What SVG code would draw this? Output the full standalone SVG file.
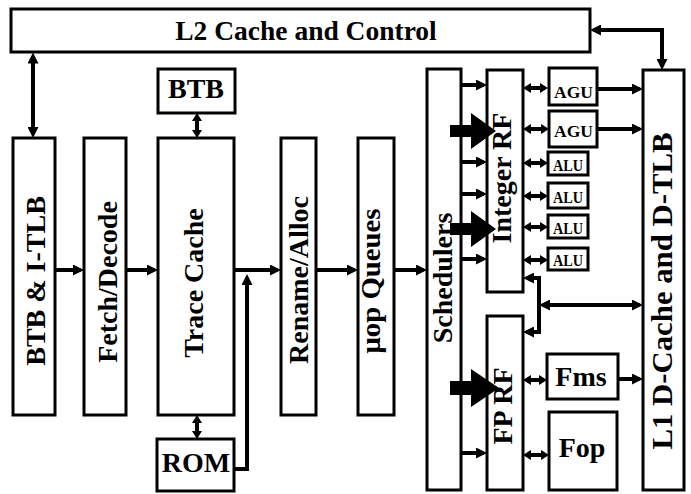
<svg xmlns="http://www.w3.org/2000/svg" width="691" height="494" viewBox="0 0 691 494">
<style>
.box{fill:#fff;stroke:#000;stroke-width:3}
.t{font-family:"Liberation Serif","Times New Roman",serif;font-weight:bold;fill:#000;text-anchor:middle}
.f{font-size:28px}
.ln{stroke:#000;stroke-width:4;fill:none}
.a{marker-end:url(#ah)}
.aa{marker-start:url(#ah);marker-end:url(#ah)}
.ss{marker-start:url(#sh);marker-end:url(#sh)}
.big{fill:#000}
</style>
<defs>
<marker id="ah" viewBox="0 0 11 11" refX="7.5" refY="5.5" markerWidth="11" markerHeight="11" markerUnits="userSpaceOnUse" orient="auto-start-reverse"><path d="M0,0 L11,5.5 L0,11 z" fill="#000"/></marker>
<marker id="sh" viewBox="0 0 8 10" refX="5" refY="5" markerWidth="8" markerHeight="10" markerUnits="userSpaceOnUse" orient="auto-start-reverse"><path d="M0,0 L8,5 L0,10 z" fill="#000"/></marker>
</defs>
<rect width="691" height="494" fill="#fff"/>
<g id="l2"><rect class="box" x="11" y="9" width="579" height="43"/><text class="t" x="306" y="40" font-size="27.5">L2 Cache and Control</text></g>
<g id="btb"><rect class="box" x="158" y="69" width="77" height="44"/><text class="t f" x="196" y="98">BTB</text></g>
<g id="btb-itlb"><rect class="box" x="13" y="138" width="42" height="277"/><text class="t f" transform="translate(45,281) rotate(-90)">BTB &amp; I-TLB</text></g>
<g id="fetch"><rect class="box" x="84" y="138" width="42" height="277"/><text class="t f" transform="translate(117,282) rotate(-90)">Fetch/Decode</text></g>
<g id="trace"><rect class="box" x="158" y="138" width="76" height="277"/><text class="t f" transform="translate(203,283) rotate(-90)">Trace Cache</text></g>
<g id="rom"><rect class="box" x="157" y="439" width="77" height="52"/><text class="t f" x="196" y="472">ROM</text></g>
<g id="rename"><rect class="box" x="281" y="138" width="35" height="277"/><text class="t f" transform="translate(308,280) rotate(-90)">Rename/Alloc</text></g>
<g id="uop"><rect class="box" x="358" y="138" width="36" height="277"/><text class="t f" transform="translate(380,281) rotate(-90)" textLength="145" lengthAdjust="spacingAndGlyphs">μop Queues</text></g>
<g id="sched"><rect class="box" x="427" y="69" width="34" height="421"/><text class="t f" transform="translate(452,278) rotate(-90)">Schedulers</text></g>
<g id="intrf"><rect class="box" x="487" y="70" width="36" height="222"/><text class="t f" transform="translate(511,178) rotate(-90)">Integer RF</text></g>
<g id="fprf"><rect class="box" x="487" y="316" width="36" height="174"/><text class="t f" transform="translate(512,406) rotate(-90)">FP RF</text></g>
<g id="agu1"><rect class="box" x="549" y="68" width="48" height="37"/><text class="t" x="573.5" y="98" font-size="17.5">AGU</text></g>
<g id="agu2"><rect class="box" x="549" y="111" width="48" height="36"/><text class="t" x="573.5" y="137" font-size="17.5">AGU</text></g>
<g id="alu1"><rect class="box" x="548" y="152" width="40" height="23"/><text class="t" x="568" y="171" font-size="16" textLength="30" lengthAdjust="spacingAndGlyphs">ALU</text></g>
<g id="alu2"><rect class="box" x="548" y="183" width="40" height="25"/><text class="t" x="568" y="203" font-size="16" textLength="30" lengthAdjust="spacingAndGlyphs">ALU</text></g>
<g id="alu3"><rect class="box" x="548" y="215" width="40" height="23"/><text class="t" x="568" y="234" font-size="16" textLength="30" lengthAdjust="spacingAndGlyphs">ALU</text></g>
<g id="alu4"><rect class="box" x="548" y="248" width="40" height="22"/><text class="t" x="568" y="266" font-size="16" textLength="30" lengthAdjust="spacingAndGlyphs">ALU</text></g>
<g id="fms"><rect class="box" x="547" y="354" width="71" height="45"/><text class="t f" x="581" y="386">Fms</text></g>
<g id="fop"><rect class="box" x="549" y="412" width="68" height="78"/><text class="t f" x="582" y="457">Fop</text></g>
<g id="l1"><rect class="box" x="643" y="70" width="41" height="420"/><text class="t" font-size="29" transform="translate(672,291) rotate(-90)" textLength="317" lengthAdjust="spacingAndGlyphs">L1 D-Cache and D-TLB</text></g>
<g id="connectors">
<path class="ln aa" d="M33,56 V134.5"/>
<path class="ln aa" d="M662,66.5 V30 H593.5"/>
<path class="ln ss" d="M197,116 V135"/>
<path class="ln ss" d="M197,418 V436"/>
<path class="ln a" d="M55,270 H80.5"/>
<path class="ln a" d="M126,270 H154.5"/>
<path class="ln a" d="M234,270 H277.5"/>
<path class="ln a" d="M234,469 H247 V277.5"/>
<path class="ln a" d="M316,270 H354.5"/>
<path class="ln a" d="M394,270 H423.5"/>
<path class="ln a" d="M461,85 H483.5"/>
<path class="ln a" d="M461,162 H483.5"/>
<path class="ln a" d="M461,194 H483.5"/>
<path class="ln a" d="M461,259 H483.5"/>
<path class="ln a" d="M461,453 H483.5"/>
<polygon class="big" points="450,125 471,125 471,113 496,131 471,149 471,137 450,137"/>
<polygon class="big" points="450,223 471,223 471,211 496,229 471,247 471,235 450,235"/>
<polygon class="big" points="450,381 471,381 471,369 499,388 471,407 471,395 450,395"/>
<path class="ln ss" d="M526,88 H545"/>
<path class="ln ss" d="M526,129 H546"/>
<path class="ln ss" d="M526,163 H545"/>
<path class="ln ss" d="M526,196 H545"/>
<path class="ln ss" d="M526,227 H545"/>
<path class="ln ss" d="M526,260 H545"/>
<path class="ln a" d="M597,89 H639.5"/>
<path class="ln a" d="M597,129 H639.5"/>
<path class="ln aa" d="M526.5,278 H539 V332 H526.5"/>
<path class="ln aa" d="M542.5,305 H639.5"/>
<path class="ln ss" d="M526,380 H544"/>
<path class="ln ss" d="M526,455 H546"/>
<path class="ln a" d="M618,379 H639.5"/>
</g>
</svg>
